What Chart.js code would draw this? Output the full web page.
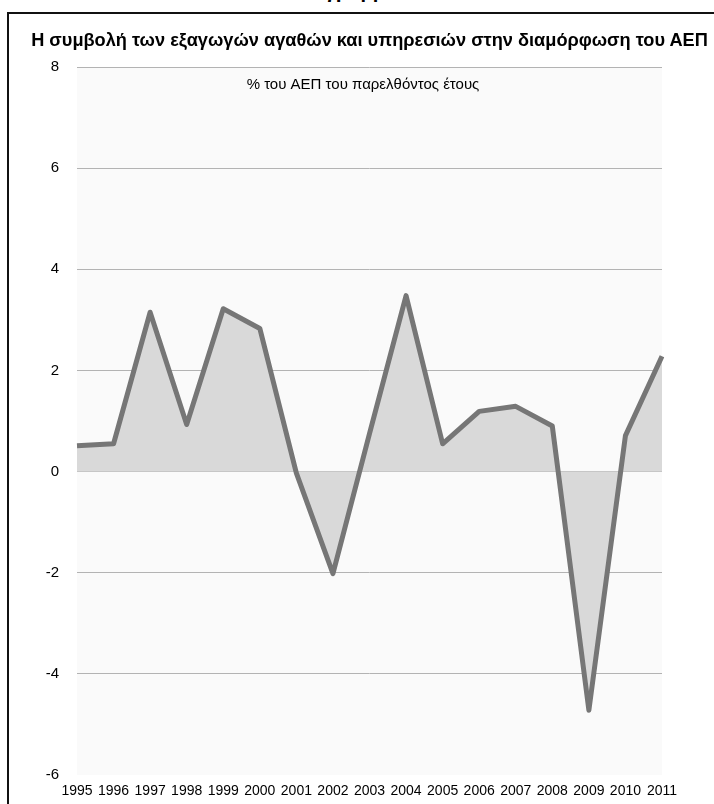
<!DOCTYPE html>
<html>
<head>
<meta charset="utf-8">
<script src="https://cdn.jsdelivr.net/npm/chart.js@4.4.1/dist/chart.umd.min.js"></script>
<style>
    html, body { margin: 0; padding: 0; background: #fff; overflow: hidden; }
    #wrap { position: relative; width: 714px; height: 804px; }
    #frame {
        position: absolute; left: 7px; top: 12px; width: 800px; height: 900px;
        border: 2px solid #111; box-sizing: border-box;
    }
    #cut {
        position: absolute; left: 0; width: 690px; top: -19px; text-align: center;
        font: bold 20px "Liberation Sans", Arial, sans-serif; line-height: 20px; color: #000;
    }
    #title {
        position: absolute; left: 0; width: 739px; top: 29px; text-align: center;
        font: bold 18.2px "Liberation Sans", Arial, sans-serif; line-height: 22px; color: #000;
        white-space: nowrap;
    }
    #chart { position: absolute; left: 0; top: 0; }
</style>
</head>
<body>
<div id="wrap">
    <div id="cut">Διάγραμμα</div>
    <div id="frame"></div>
    <canvas id="chart" width="714" height="804"></canvas>
    <div id="title"></div>
</div>
<script>
// data
const years = ['1995', '1996', '1997', '1998', '1999', '2000', '2001', '2002', '2003',
    '2004', '2005', '2006', '2007', '2008', '2009', '2010', '2011'];
const contribution = [0.51, 0.55, 3.15, 0.93, 3.22, 2.83, -0.03, -2.02, 0.75,
    3.48, 0.55, 1.19, 1.29, 0.90, -4.72, 0.71, 2.28];
const yTicks = [-6, -4, -2, 0, 2, 4, 6, 8];

const chartTitle = 'Η συμβολή των εξαγωγών αγαθών και υπηρεσιών στην διαμόρφωση του ΑΕΠ';
const unitNote = '% του ΑΕΠ του παρελθόντος έτους';

const font = "'Liberation Sans', Arial, sans-serif";

document.getElementById('title').textContent = chartTitle;

// plot background + note inside the plot
const plotDecor = {
    id: 'plotDecor',
    beforeDraw(chart) {
        const { ctx, chartArea: a } = chart;
        ctx.save();
        ctx.fillStyle = '#fafafa';
        ctx.fillRect(a.left, a.top, a.right - a.left, a.bottom - a.top);
        ctx.restore();
    },
    afterDatasetsDraw(chart) {
        const { ctx, chartArea: a } = chart;
        ctx.save();
        ctx.font = '15px ' + font;
        ctx.fillStyle = '#000';
        ctx.textAlign = 'center';
        ctx.textBaseline = 'middle';
        ctx.fillText(unitNote, 363, a.top + 18);
        ctx.restore();
    }
};

new Chart(document.getElementById('chart'), {
    type: 'line',
    data: {
        labels: years,
        datasets: [{
            data: contribution,
            borderColor: '#767676',
            backgroundColor: '#d9d9d9',
            borderWidth: 5,
            fill: 'origin',
            tension: 0,
            pointRadius: 0,
            borderJoinStyle: 'round'
        }]
    },
    options: {
        responsive: false,
        animation: false,
        layout: { padding: { left: 25, right: 52, top: 67, bottom: 0 } },
        plugins: {
            legend: { display: false },
            tooltip: { enabled: false },
            title: { display: false }
        },
        scales: {
            x: {
                offset: false,
                grid: { display: false },
                border: { display: false },
                ticks: {
                    color: '#000',
                    font: { family: font, size: 14 },
                    autoSkip: false,
                    maxRotation: 0,
                    padding: 0
                },
                afterFit(scale) { scale.height = 29; }
            },
            y: {
                min: yTicks[0],
                max: yTicks[yTicks.length - 1],
                afterBuildTicks(scale) { scale.ticks = yTicks.map(v => ({ value: v })); },
                grid: {
                    color: c => c.tick && c.tick.value === yTicks[0] ? 'rgba(0,0,0,0)' : '#b3b3b3',
                    lineWidth: 1,
                    drawTicks: false
                },
                border: { display: false },
                ticks: {
                    color: '#000',
                    font: { family: font, size: 15 },
                    padding: 18
                },
                afterFit(scale) { scale.width = 52; }
            }
        }
    },
    plugins: [plotDecor]
});
</script>
</body>
</html>
